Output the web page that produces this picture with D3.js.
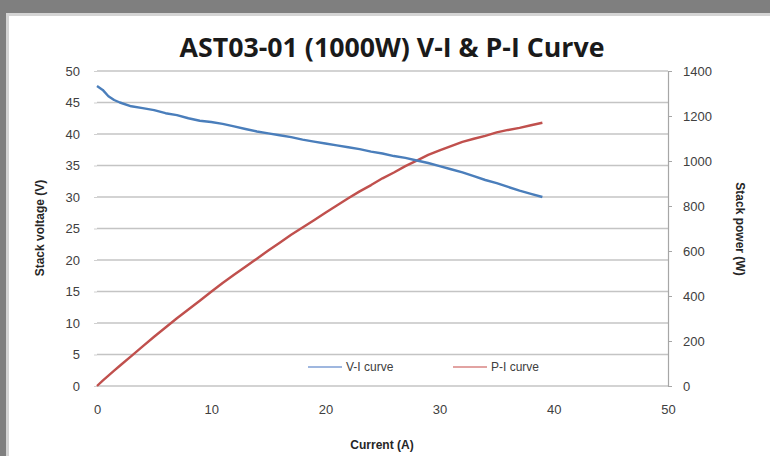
<!DOCTYPE html>
<html>
<head>
<meta charset="utf-8">
<script src="https://cdn.jsdelivr.net/npm/d3@7"></script>
<style>
  html, body { margin: 0; padding: 0; background: #ffffff; }
  svg { display: block; }
  text { font-family: "Liberation Sans", "DejaVu Sans", sans-serif; }
</style>
</head>
<body>
<svg id="chart" width="770" height="456"></svg>
<script>
// Stack current (A)
const current = [0, 0.5, 1, 1.5, 2, 3, 4, 5, 6, 7, 8, 9, 10, 11, 12, 13, 14, 15, 16, 17, 18, 19,
                 20, 21, 22, 23, 24, 25, 26, 27, 28, 29, 30, 31, 32, 33, 34, 35, 36, 37, 38, 39];
// Stack voltage (V)
const voltage = [47.6, 47.0, 46.0, 45.4, 45.0, 44.4, 44.1, 43.8, 43.3, 43.0, 42.5, 42.1, 41.9, 41.6,
                 41.2, 40.8, 40.4, 40.1, 39.8, 39.5, 39.1, 38.8, 38.5, 38.2, 37.9, 37.6, 37.2, 36.9,
                 36.5, 36.2, 35.8, 35.4, 34.9, 34.4, 33.9, 33.3, 32.7, 32.2, 31.6, 31.0, 30.5, 30.0];
// Stack power (W)
const power = [0, 24, 46, 68, 90, 133, 176, 219, 260, 301, 340, 379, 419, 458, 494, 530, 566, 602,
               637, 672, 704, 737, 770, 802, 834, 865, 893, 923, 949, 977, 1002, 1027, 1047, 1066,
               1085, 1099, 1112, 1127, 1138, 1147, 1159, 1170];

const xTicks = [0, 10, 20, 30, 40, 50];
const vTicks = [0, 5, 10, 15, 20, 25, 30, 35, 40, 45, 50];
const pTicks = [0, 200, 400, 600, 800, 1000, 1200, 1400];
const seriesNames = ["V-I curve", "P-I curve"];
const titleText = "AST03-01 (1000W) V-I & P-I Curve";

const svg = d3.select("#chart");
const W = 770, H = 456;

// frame: dark outer margin and light inner edge
svg.append("rect").attr("x", 0).attr("y", 0).attr("width", W).attr("height", H).attr("fill", "#7f7f7f");
svg.append("rect").attr("x", 6).attr("y", 13).attr("width", W - 6).attr("height", H - 13).attr("fill", "#d4d4d4");
svg.append("rect").attr("x", 9).attr("y", 16).attr("width", W - 9).attr("height", H - 16).attr("fill", "#ffffff");

const plot = { left: 97, right: 668, top: 71, bottom: 386 };

const x = d3.scaleLinear().domain([0, 50]).range([plot.left, plot.right]);
const yV = d3.scaleLinear().domain([0, 50]).range([plot.bottom, plot.top]);
const yP = d3.scaleLinear().domain([0, 1400]).range([plot.bottom, plot.top]);

const gridColor = "#c4c4c4";
const labelColor = "#404040";
const plain = d3.format("d");

// horizontal gridlines from the voltage axis
svg.append("g")
  .selectAll("line")
  .data(vTicks)
  .join("line")
  .attr("x1", plot.left).attr("x2", plot.right)
  .attr("y1", d => yV(d)).attr("y2", d => yV(d))
  .attr("stroke", gridColor).attr("stroke-width", 1.5);

// left axis (labels and short ticks, no spine)
const leftAxis = svg.append("g")
  .attr("transform", `translate(${plot.left},0)`)
  .call(d3.axisLeft(yV).tickValues(vTicks).tickFormat(plain).tickSize(3).tickPadding(14));
leftAxis.select(".domain").remove();
leftAxis.selectAll(".tick line").attr("stroke", "#d0d0d0");
leftAxis.selectAll(".tick text")
  .attr("fill", labelColor).style("font-size", "13px");

// right axis
const rightAxis = svg.append("g")
  .attr("transform", `translate(${plot.right},0)`)
  .call(d3.axisRight(yP).tickValues(pTicks).tickFormat(plain).tickSize(4).tickSizeOuter(0).tickPadding(11));
rightAxis.select(".domain").attr("stroke", "#a6a6a6").attr("stroke-width", 1.2);
rightAxis.selectAll(".tick line").attr("stroke", "#a6a6a6");
rightAxis.selectAll(".tick text")
  .attr("fill", labelColor).style("font-size", "13px");

// bottom axis labels
const bottomAxis = svg.append("g")
  .attr("transform", `translate(0,${plot.bottom})`)
  .call(d3.axisBottom(x).tickValues(xTicks).tickFormat(plain).tickSize(0).tickPadding(19));
bottomAxis.select(".domain").remove();
bottomAxis.selectAll(".tick text")
  .attr("fill", labelColor).style("font-size", "13px");

// series lines
const vLine = d3.line().x((d, i) => x(current[i])).y(d => yV(d));
const pLine = d3.line().x((d, i) => x(current[i])).y(d => yP(d));

svg.append("path").datum(power)
  .attr("d", pLine).attr("fill", "none")
  .attr("stroke", "#c0504d").attr("stroke-width", 2.4)
  .attr("stroke-linejoin", "round");
svg.append("path").datum(voltage)
  .attr("d", vLine).attr("fill", "none")
  .attr("stroke", "#4a7ebb").attr("stroke-width", 2.4)
  .attr("stroke-linejoin", "round");

// title
const title = svg.append("text")
  .attr("x", 392).attr("y", 57)
  .attr("text-anchor", "middle")
  .attr("fill", "#1a1a1a")
  .style("font-family", "'Open Sans', 'Liberation Sans', sans-serif")
  .style("font-weight", "bold")
  .style("font-size", "22px")
  .text(titleText);
const tw = title.node().getComputedTextLength();
title.style("font-size", (22 * 425 / tw).toFixed(2) + "px");

// axis titles
svg.append("text")
  .attr("transform", "translate(44,228) rotate(-90)")
  .attr("text-anchor", "middle")
  .attr("fill", "#262626")
  .style("font-weight", "bold").style("font-size", "12px")
  .text("Stack voltage (V)");

svg.append("text")
  .attr("transform", "translate(736,229) rotate(90)")
  .attr("text-anchor", "middle")
  .attr("fill", "#262626")
  .style("font-weight", "bold").style("font-size", "12px")
  .text("Stack power (W)");

svg.append("text")
  .attr("x", 382).attr("y", 449)
  .attr("text-anchor", "middle")
  .attr("fill", "#262626")
  .style("font-weight", "bold").style("font-size", "12px")
  .text("Current (A)");

// legend
const legendItems = [
  { name: seriesNames[0], color: "#7f9fd4", x0: 308 },
  { name: seriesNames[1], color: "#d98583", x0: 453 }
];
const lg = svg.append("g");
legendItems.forEach(item => {
  lg.append("line")
    .attr("x1", item.x0).attr("x2", item.x0 + 34)
    .attr("y1", 367).attr("y2", 367)
    .attr("stroke", item.color).attr("stroke-width", 1.5);
  lg.append("text")
    .attr("x", item.x0 + 38).attr("y", 371)
    .attr("fill", "#404040")
    .style("font-size", "12px")
    .text(item.name);
});
</script>
</body>
</html>
